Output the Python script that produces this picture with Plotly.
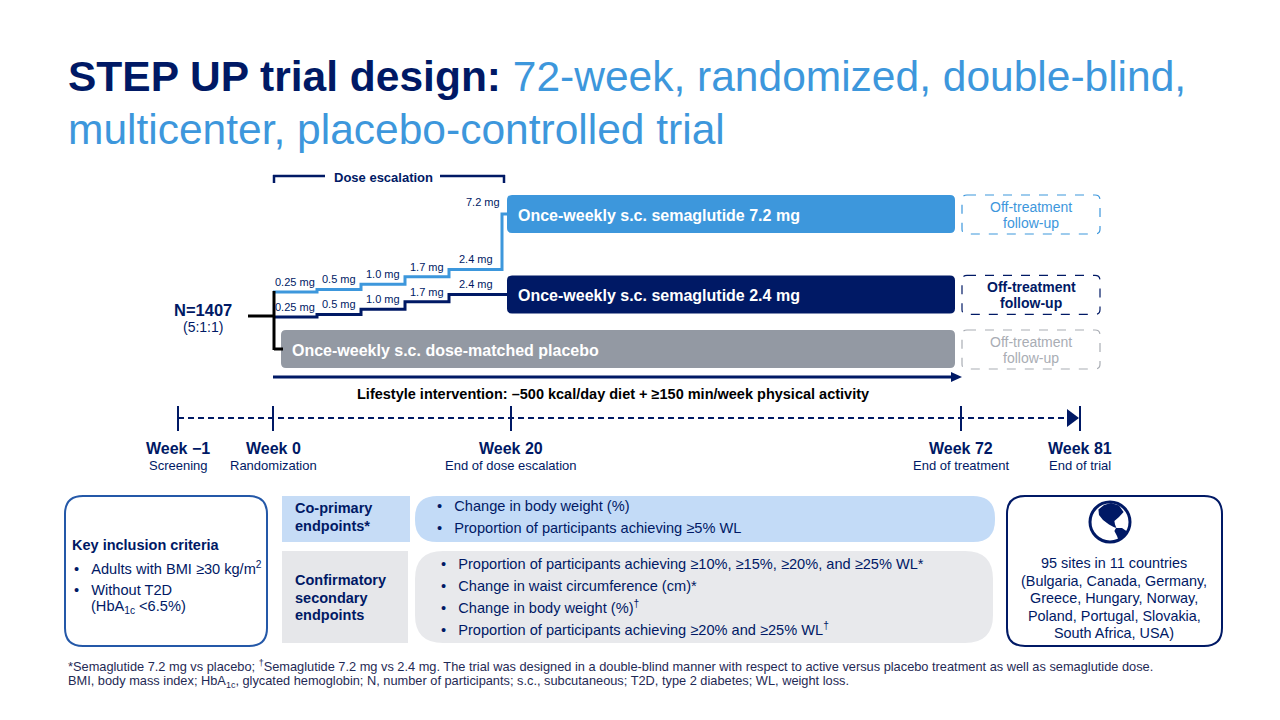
import plotly.graph_objects as go

# ---------------- data ----------------
title_bold = "STEP UP trial design:"
title_rest_1 = "72-week, randomized, double-blind,"
title_rest_2 = "multicenter, placebo-controlled trial"

dose_labels = ["0.25 mg", "0.5 mg", "1.0 mg", "1.7 mg", "2.4 mg"]
dose_values = [0.25, 0.5, 1.0, 1.7, 2.4]
step_weeks = [0, 4, 8, 12, 16]
high_dose_label = "7.2 mg"

arm_labels = ["Once-weekly s.c. semaglutide 7.2 mg",
              "Once-weekly s.c. semaglutide 2.4 mg",
              "Once-weekly s.c. dose-matched placebo"]
followup_label = ["Off-treatment", "follow-up"]
n_total = "N=1407"
ratio = "(5:1:1)"
lifestyle = "Lifestyle intervention: \u2013500 kcal/day diet + \u2265150 min/week physical activity"

week_labels = ["Week \u22121", "Week 0", "Week 20", "Week 72", "Week 81"]
week_sub = ["Screening", "Randomization", "End of dose escalation", "End of treatment", "End of trial"]

inclusion_title = "Key inclusion criteria"
inclusion_items = ["Adults with BMI \u226530 kg/m<sup>2</sup>", "Without T2D"]
inclusion_extra = "(HbA<sub>1c</sub> &lt;6.5%)"

coprimary_label = ["Co-primary", "endpoints*"]
coprimary_items = ["Change in body weight (%)",
                   "Proportion of participants achieving \u22655% WL"]
confirm_label = ["Confirmatory", "secondary", "endpoints"]
confirm_items = ["Proportion of participants achieving \u226510%, \u226515%, \u226520%, and \u226525% WL*",
                 "Change in waist circumference (cm)*",
                 "Change in body weight (%)<sup>\u2020</sup>",
                 "Proportion of participants achieving \u226520% and \u226525% WL<sup>\u2020</sup>"]
sites_lines = ["95 sites in 11 countries", "(Bulgaria, Canada, Germany,",
               "Greece, Hungary, Norway,", "Poland, Portugal, Slovakia,", "South Africa, USA)"]
footnotes = ["*Semaglutide 7.2 mg vs placebo; <sup>\u2020</sup>Semaglutide 7.2 mg vs 2.4 mg. The trial was designed in a double-blind manner with respect to active versus placebo treatment as well as semaglutide dose.",
             "BMI, body mass index; HbA<sub>1c</sub>, glycated hemoglobin; N, number of participants; s.c., subcutaneous; T2D, type 2 diabetes; WL, weight loss."]

# ---------------- style / layout ----------------
NAVY = "#001965"
LBLUE = "#3D97DC"
GREY = "#9399A3"
GREY_T = "#A9ADB4"
FONT = "Liberation Sans, Arial, sans-serif"
BODY = 14.6
BUL = "\u2022&nbsp;&nbsp;&nbsp;"

week_x = [178, 273, 511, 961, 1080]
X0 = week_x[1]
PX_PER_WEEK = 11.0
PX_PER_MG = 10.5
box_x0, box_x1 = 507, 955
fu_x0, fu_x1 = 962, 1100

fig = go.Figure()


def rrect(x0, y0, x1, y1, r):
    return (f"M{x0+r},{y0} L{x1-r},{y0} Q{x1},{y0} {x1},{y0+r} L{x1},{y1-r} "
            f"Q{x1},{y1} {x1-r},{y1} L{x0+r},{y1} Q{x0},{y1} {x0},{y1-r} "
            f"L{x0},{y0+r} Q{x0},{y0} {x0+r},{y0} Z")


def shape_path(path, fill=None, line=None, width=0, dash="solid"):
    fig.add_shape(type="path", path=path, xref="x", yref="y",
                  fillcolor=fill if fill else "rgba(0,0,0,0)",
                  line=dict(color=line if line else "rgba(0,0,0,0)", width=width, dash=dash),
                  layer="below")


def seg(x0, y0, x1, y1, color, width=3, dash="solid"):
    fig.add_shape(type="line", x0=x0, y0=y0, x1=x1, y1=y1, xref="x", yref="y",
                  line=dict(color=color, width=width, dash=dash))


def txt(x, y, s, size, color, xanchor="left", yanchor="middle", align="left", family=FONT):
    fig.add_annotation(x=x, y=y, xref="x", yref="y", text=s, showarrow=False,
                       font=dict(size=size, color=color, family=family),
                       xanchor=xanchor, yanchor=yanchor, align=align, borderpad=0)


# ---------------- title ----------------
txt(67, 76, f"<b>{title_bold}</b> <span style='color:{LBLUE}'>{title_rest_1}</span>", 42.5, NAVY)
txt(67, 129, title_rest_2, 42.5, LBLUE)

# ---------------- dose escalation bracket ----------------
seg(X0, 176, 325, 176, NAVY, 2.5)
seg(440, 176, 505, 176, NAVY, 2.5)
seg(X0 + 1, 175, X0 + 1, 183, NAVY, 2.5)
seg(504, 175, 504, 183, NAVY, 2.5)
txt(383, 177, "<b>Dose escalation</b>", 13, NAVY, xanchor="center")

# ---------------- arm boxes ----------------
hi_base, lo_base = 292, 317


def dose_y(base, d):
    return base - PX_PER_MG * (d - dose_values[0])


arm_centers = [214, dose_y(lo_base, dose_values[-1]), 349]
arm_fill = [LBLUE, NAVY, GREY]
arm_x0 = [box_x0, box_x0, 281]
fu_col = [LBLUE, NAVY, GREY_T]
for i in range(3):
    c = arm_centers[i]
    shape_path(rrect(arm_x0[i], c - 19, box_x1, c + 19, 5), fill=arm_fill[i])
    txt(arm_x0[i] + 10, c + 1, f"<b>{arm_labels[i]}</b>", 16, "white")
    shape_path(rrect(fu_x0, c - 19, fu_x1, c + 20, 5), fill="white", line=fu_col[i], width=1.2, dash="dash")
    for k, ln in enumerate(followup_label):
        s = f"<b>{ln}</b>" if i == 1 else ln
        txt((fu_x0 + fu_x1) / 2, c - 7 + 16 * k, s, 14, fu_col[i], xanchor="center")

# ---------------- dose steps ----------------
step_x = [X0 + PX_PER_WEEK * w for w in step_weeks]
hi_y = [dose_y(hi_base, d) for d in dose_values]
lo_y = [dose_y(lo_base, d) for d in dose_values]
fig.add_trace(go.Scatter(x=step_x + [box_x0 - 5, box_x0 + 1], y=hi_y + [arm_centers[0], arm_centers[0]],
                         mode="lines", line=dict(color=LBLUE, width=3, shape="hv"), hoverinfo="skip"))
fig.add_trace(go.Scatter(x=step_x + [box_x0 + 1], y=lo_y + [lo_y[-1]],
                         mode="lines", line=dict(color=NAVY, width=3, shape="hv"), hoverinfo="skip"))
seg_ends = step_x[1:] + [box_x0 - 5]
for i, lab in enumerate(dose_labels):
    cx = (step_x[i] + seg_ends[i]) / 2
    txt(cx, hi_y[i] - 10, lab, 11, NAVY, xanchor="center")
    txt(cx, lo_y[i] - 10, lab, 11, NAVY, xanchor="center")
txt(box_x0 - 6, 202, high_dose_label, 11, NAVY, xanchor="right")

# randomization connector
seg(248, 316, X0 + 1, 316, "black", 3)
seg(X0 + 1, hi_base - 1, X0 + 1, arm_centers[2] + 1, "black", 3)
seg(X0 + 1, arm_centers[2], arm_x0[2] + 2, arm_centers[2], "black", 3)
txt(203, 310, f"<b>{n_total}</b>", 16.5, NAVY, xanchor="center")
txt(203, 327, ratio, 14, NAVY, xanchor="center")

# lifestyle arrow
seg(X0, 377, box_x1 - 2, 377, NAVY, 3)
shape_path(f"M{box_x1-4},372 L{box_x1+7},377 L{box_x1-4},382 Z", fill=NAVY)
txt(613, 394, f"<b>{lifestyle}</b>", 14.5, "black", xanchor="center")

# ---------------- timeline ----------------
seg(week_x[0], 418, week_x[-1] - 12, 418, NAVY, 2, dash="6px,4px")
shape_path(f"M{week_x[-1]-13},409 L{week_x[-1]-1},418 L{week_x[-1]-13},427 Z", fill=NAVY)
for i, wx in enumerate(week_x):
    seg(wx, 406, wx, 431, NAVY, 2)
    txt(wx, 448, f"<b>{week_labels[i]}</b>", 16, NAVY, xanchor="center")
    txt(wx, 465, week_sub[i], 13, NAVY, xanchor="center")

# ---------------- bottom: inclusion ----------------
shape_path(rrect(65, 496, 267, 646, 18), fill="white", line="#2458A8", width=2)
txt(71, 545, f"<b>{inclusion_title}</b>", 14.5, NAVY)
for j, it in enumerate(inclusion_items):
    txt(73, 568 + j * 22, BUL + it, BODY, NAVY)
txt(90, 607, inclusion_extra, BODY, NAVY)

# ---------------- endpoints ----------------
shape_path(rrect(282, 496, 410, 542, 0.1), fill="#C6DCF6")
shape_path(rrect(415, 496, 995, 542, 22), fill="#C3DBF7")
for k, ln in enumerate(coprimary_label):
    txt(294, 508 + 18 * k, f"<b>{ln}</b>", 14.5, NAVY)
for j, it in enumerate(coprimary_items):
    txt(436, 506 + j * 22, BUL + it, BODY, NAVY)

shape_path(rrect(282, 551, 408, 643, 0.1), fill="#E6E7EA")
shape_path(rrect(415, 551, 993, 643, 28), fill="#E8E9EC")
for k, ln in enumerate(confirm_label):
    txt(294, 580 + 17.5 * k, f"<b>{ln}</b>", 14.5, NAVY)
for j, it in enumerate(confirm_items):
    txt(440, 564 + j * 21.7, BUL + it, BODY, NAVY)

# ---------------- sites ----------------
shape_path(rrect(1007, 496, 1222, 646, 18), fill="white", line=NAVY, width=2)
gx, gy, R = 1110, 522, 20
fig.add_shape(type="circle", x0=gx - R, y0=gy - R, x1=gx + R, y1=gy + R, xref="x", yref="y",
              line=dict(color=NAVY, width=3), fillcolor="white")
na = [(-0.58, -0.62), (-0.3, -0.85), (0.05, -0.95), (0.45, -0.82), (0.68, -0.5), (0.45, -0.25),
      (0.22, -0.05), (0.25, 0.12), (0.32, 0.3), (0.18, 0.25), (-0.05, 0.12), (-0.35, -0.1),
      (-0.55, -0.35)]
sa = [(0.3, 0.3), (0.6, 0.3), (0.82, 0.45), (0.8, 0.6), (0.6, 0.82), (0.45, 0.98),
      (0.35, 0.7), (0.22, 0.45)]
for poly in (na, sa):
    p = "M" + " L".join(f"{gx + R*a:.1f},{gy + R*b:.1f}" for a, b in poly) + " Z"
    fig.add_shape(type="path", path=p, xref="x", yref="y", fillcolor=NAVY, line=dict(width=0))
for j, ln in enumerate(sites_lines):
    txt(1114, 563 + j * 17.5, ln, 14.4, NAVY, xanchor="center")

# ---------------- footnotes ----------------
txt(67, 666, footnotes[0], 12.8, "#1F2A55")
txt(67, 681, footnotes[1], 12.8, "#1F2A55")

# the page body has an 8px margin: offset the axis ranges so data units equal window pixels
fig.update_layout(width=1272, height=712, margin=dict(l=0, r=0, t=0, b=0),
                  paper_bgcolor="white", plot_bgcolor="white", showlegend=False,
                  xaxis=dict(range=[8, 1280], visible=False, fixedrange=True),
                  yaxis=dict(range=[720, 8], visible=False, fixedrange=True))
fig.write_html("out.html")
